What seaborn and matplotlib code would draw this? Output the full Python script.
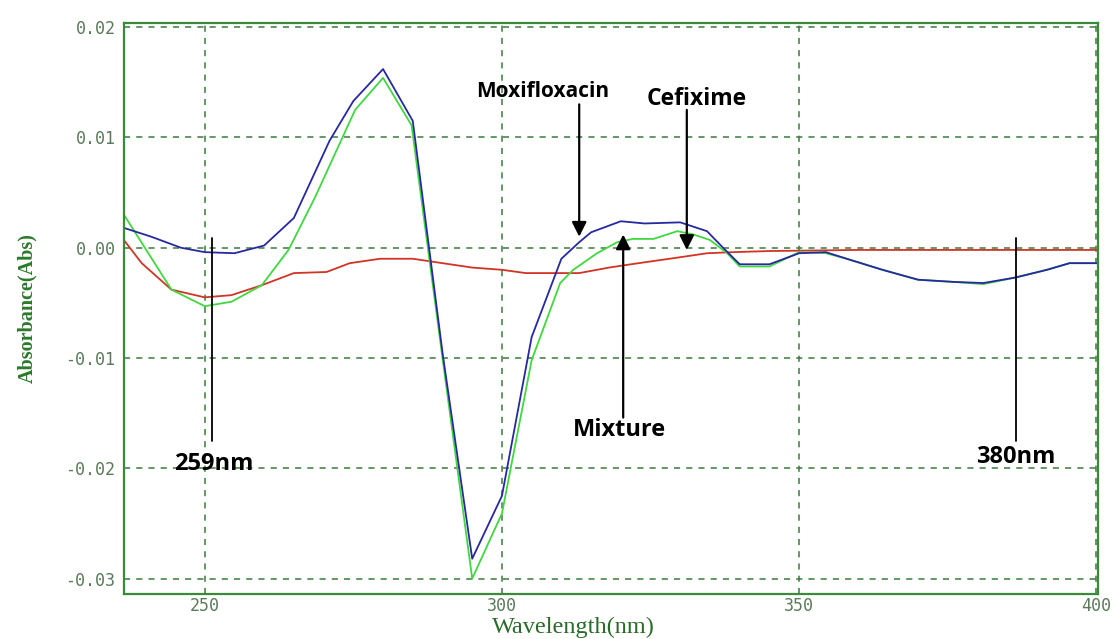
import matplotlib
matplotlib.use("Agg")
import matplotlib.pyplot as plt
import seaborn as sns

# =========================
# Data
# =========================
moxi_wl = [236.4, 241, 246, 250, 255, 260, 265, 271, 275, 280, 285, 290, 295, 300,
           305, 310, 313, 315, 320, 324, 330, 334.5, 337.2, 340, 345, 350, 354.5,
           358, 364, 370, 376, 381, 386.4, 391.7, 395.5, 400.2]
moxi_abs = [0.0018, 0.0010, 0.0000, -0.0004, -0.0005, 0.0002, 0.0027, 0.0097, 0.0133,
            0.0162, 0.0115, -0.0095, -0.0282, -0.0225, -0.0081, -0.0010, 0.0005, 0.0014,
            0.0024, 0.0022, 0.0023, 0.0015, 0.0000, -0.0015, -0.0015, -0.0005, -0.0004,
            -0.0010, -0.0020, -0.0029, -0.0031, -0.0032, -0.0027, -0.0020, -0.0014, -0.0014]

mix_wl = [236.4, 244.4, 250, 254.5, 259.6, 264.1, 268.5, 275.3, 280, 284.8, 290, 295,
          300, 305, 309.8, 312, 316, 319.4, 322, 325.5, 329.5, 332.2, 335, 337.9, 340,
          345, 350, 354.5, 358, 364, 370, 376, 381, 386.4, 391.7, 395.5, 400.2]
mix_abs = [0.0030, -0.0038, -0.0053, -0.0049, -0.0034, -0.0002, 0.0045, 0.0125, 0.0154,
           0.0111, -0.0100, -0.0300, -0.0241, -0.0102, -0.0032, -0.0020, -0.0005, 0.0005,
           0.0008, 0.0008, 0.0015, 0.0012, 0.0007, -0.0005, -0.0017, -0.0017, -0.0004,
           -0.0005, -0.0010, -0.0020, -0.0029, -0.0031, -0.0033, -0.0027, -0.0020,
           -0.0014, -0.0014]

cefi_wl = [236.4, 239.4, 244.4, 250, 254.5, 259.6, 265, 270.5, 274.4, 279.5, 285, 290,
           295, 300, 304, 313, 318, 323, 329.5, 334.5, 339, 345, 360, 400.2]
cefi_abs = [0.0007, -0.0014, -0.0038, -0.0045, -0.0043, -0.0034, -0.0023, -0.0022,
            -0.0014, -0.0010, -0.0010, -0.0014, -0.0018, -0.0020, -0.0023, -0.0023,
            -0.0018, -0.0014, -0.0009, -0.0005, -0.0004, -0.0003, -0.0002, -0.0002]

x_ticks = [250, 300, 350, 400]
y_ticks = [-0.03, -0.02, -0.01, 0.00, 0.01, 0.02]

# =========================
# Figure
# =========================
sns.set_style("white")
fig = plt.figure(figsize=(11.16, 6.39), dpi=100)
ax = fig.add_axes([0.111, 0.0704, 0.873, 0.894])

sns.lineplot(x=cefi_wl, y=cefi_abs, ax=ax, color="#d03424", lw=1.3, estimator=None, sort=False)
sns.lineplot(x=mix_wl, y=mix_abs, ax=ax, color="#3fd83f", lw=1.3, estimator=None, sort=False)
sns.lineplot(x=moxi_wl, y=moxi_abs, ax=ax, color="#2828a0", lw=1.3, estimator=None, sort=False)

ax.set_xlim(236.4, 400.3)
ax.set_ylim(-0.0314, 0.0204)
ax.set_xticks(x_ticks)
ax.set_yticks(y_ticks)
ax.set_yticklabels([f"{v:.2f}" for v in y_ticks])

grid_col = "#3a7a3a"
ax.grid(True, color=grid_col, ls=(0, (4, 4)), lw=1.1)
for s in ax.spines.values():
    s.set_color("#3a8a3a")
    s.set_linewidth(1.6)

ax.tick_params(length=0, pad=6, labelcolor="#5a7a5a")
ax.tick_params(axis="x", pad=2)
for lab in ax.get_xticklabels() + ax.get_yticklabels():
    lab.set_family("DejaVu Sans Mono")
    lab.set_fontsize(12)

ax.set_xlabel("Wavelength(nm)", family="Liberation Serif", fontsize=17.5, color="#2a6a2a",
              va="bottom")
ax.xaxis.set_label_coords(0.461, -0.077)
ax.set_ylabel("Absorbance(Abs)", family="Liberation Serif", fontsize=14.5, fontweight="bold",
              color="#2a7a2a", labelpad=20)

# =========================
# Annotations
# =========================
arrow = dict(arrowstyle="-|>", color="black", lw=1.6, mutation_scale=22, shrinkA=0, shrinkB=0)
ax.annotate("", xy=(313, 0.0010), xytext=(313, 0.0130), arrowprops=arrow)
ax.annotate("", xy=(331.1, -0.0002), xytext=(331.1, 0.0125), arrowprops=arrow)
ax.annotate("", xy=(320.4, 0.0012), xytext=(320.4, -0.0154), arrowprops=arrow)

ax.plot([251.3, 251.3], [0.0009, -0.0175], color="black", lw=1.3)
ax.plot([386.4, 386.4], [0.0009, -0.0175], color="black", lw=1.3)

txt = dict(family="Open Sans", fontweight="bold", color="black", ha="center", va="center")
ax.text(306.8, 0.0142, "Moxifloxacin", fontsize=15, **txt)
ax.text(332.7, 0.01345, "Cefixime", fontsize=16.5, **txt)
ax.text(319.7, -0.0165, "Mixture", fontsize=17, **txt)
ax.text(251.5, -0.0196, "259nm", fontsize=17, **txt)
ax.text(386.5, -0.0190, "380nm", fontsize=17, **txt)

plt.savefig("out.png", dpi=100)
